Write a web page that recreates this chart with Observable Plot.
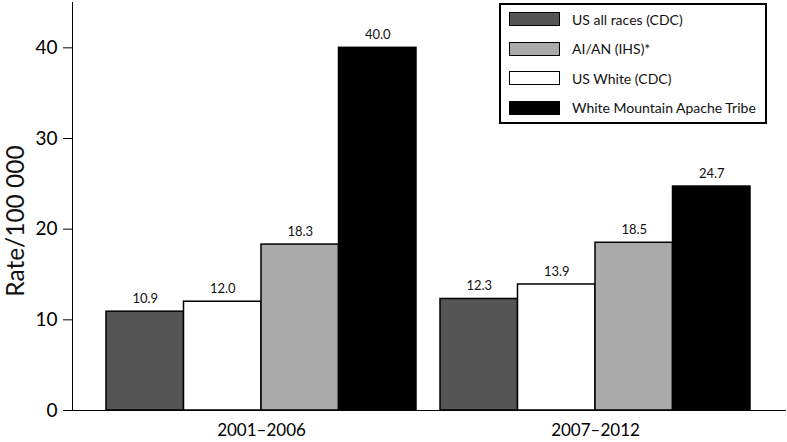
<!DOCTYPE html>
<html>
<head>
<meta charset="utf-8">
<script src="https://cdn.jsdelivr.net/npm/d3@7"></script>
<script src="https://cdn.jsdelivr.net/npm/@observablehq/plot@0.6"></script>
<style>
  html, body { margin: 0; padding: 0; background: #fff; }
  #wrap { position: relative; width: 787px; height: 442px; font-family: Lato, "Open Sans", sans-serif; }
  #legend { position: absolute; left: 499px; top: 3px; width: 264px; height: 117px; border: 2px solid #000; background: #fff; }
  .row { position: absolute; left: 8px; height: 16px; display: flex; align-items: center; font-size: 14px; color: #111; }
  .sw { width: 49px; height: 12px; border: 1.5px solid #000; margin-right: 12px; }
  #ylabel { position: absolute; left: 15px; top: 221px; transform: translate(-50%, -50%) rotate(-90deg); font-size: 24.5px; white-space: nowrap; color: #111; line-height: 1; }
  svg g[aria-label^="y-axis"] text { font-size: 19px; }
  svg g[aria-label^="x-axis"] text { font-size: 17px; }
</style>
</head>
<body>
<div id="wrap"></div>
<script>
const periods = ["2001–2006", "2007–2012"];
const seriesNames = ["US all races (CDC)", "US White (CDC)", "AI/AN (IHS)*", "White Mountain Apache Tribe"];
const seriesColors = ["#555555", "#ffffff", "#aaaaaa", "#000000"];
const usAllRaces = [10.9, 12.3];
const usWhite = [12.0, 13.9];
const aian = [18.3, 18.5];
const wmat = [40.0, 24.7];
const seriesValues = [usAllRaces, usWhite, aian, wmat];
const legendOrder = [0, 2, 1, 3];
const yTicks = [0, 10, 20, 30, 40];
const yLabel = "Rate/100 000";

const base = {
  width: 787, height: 442,
  marginLeft: 72, marginRight: 2, marginTop: 2, marginBottom: 32,
  style: {fontFamily: "Lato, 'Open Sans', sans-serif", color: "#000", background: "#fff"},
  x: {domain: periods, paddingInner: 0.0716, paddingOuter: 0.1, label: null, tickSize: 0, tickPadding: 13, line: true},
  y: {domain: [0, 45], ticks: yTicks, tickSize: 9, tickPadding: 6, line: true, label: null, tickFormat: d3.format("d")}
};

const probe = Plot.plot({...base, marks: [Plot.barY(periods, {x: d => d, y: () => 1})]});
const bw = probe.scale("x").bandwidth;
const w = bw / 4;

const marks = [];
seriesValues.forEach((vals, i) => {
  const data = periods.map((p, j) => ({period: p, value: vals[j]}));
  marks.push(Plot.barY(data, {
    x: "period", y: "value",
    fill: seriesColors[i], stroke: "#000", strokeWidth: 1.5,
    insetLeft: i * w, insetRight: (3 - i) * w
  }));
  marks.push(Plot.text(data, {
    x: "period", y: "value", text: d => d.value.toFixed(1),
    dx: (i + 0.5 - 2) * w, dy: -13, fontSize: 13, fill: "#111"
  }));
});

const chart = Plot.plot({...base, marks});
const wrap = document.getElementById("wrap");
wrap.appendChild(chart);

const yl = document.createElement("div");
yl.id = "ylabel";
yl.textContent = yLabel;
wrap.appendChild(yl);

const legend = document.createElement("div");
legend.id = "legend";
legendOrder.forEach((k, r) => {
  const row = document.createElement("div");
  row.className = "row";
  row.style.top = (6 + r * 29.5) + "px";
  const sw = document.createElement("div");
  sw.className = "sw";
  sw.style.background = seriesColors[k];
  const t = document.createElement("span");
  t.textContent = seriesNames[k];
  row.appendChild(sw); row.appendChild(t);
  legend.appendChild(row);
});
wrap.appendChild(legend);
</script>
</body>
</html>
